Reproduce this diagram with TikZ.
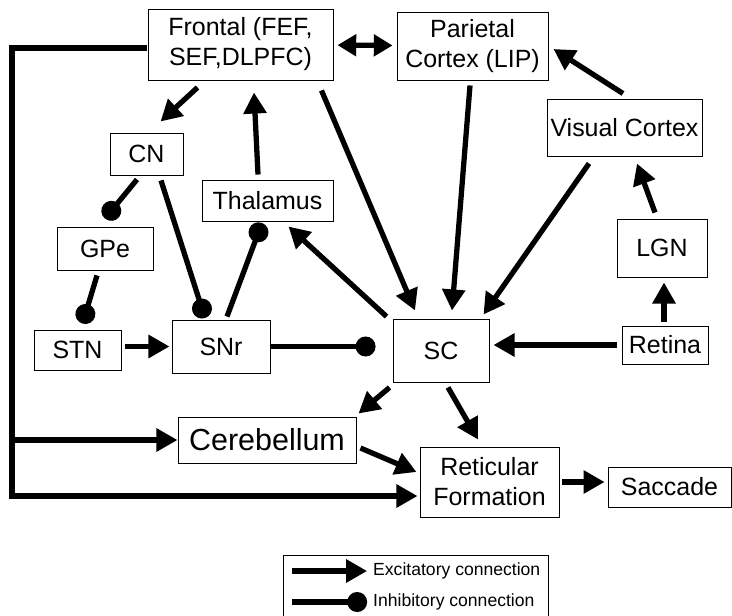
\documentclass[tikz,border=0pt]{standalone}
\usepackage{fontspec}
\setmainfont{Liberation Sans}
\usetikzlibrary{arrows.meta}

\colorlet{box edge}{black}
\colorlet{link}{black}
\tikzset{
  area/.style={draw=box edge, line width=0.8pt, inner sep=0pt, align=center,
    font=\fontsize{21.3}{25.6}\selectfont},
  key/.style={anchor=west, inner sep=0pt, font=\fontsize{15}{17}\selectfont}
  }
\tikzstyle{excite} = [draw=link, line width=4.5pt, -{Triangle[length=18pt,width=19pt]}]
\tikzstyle{inhibit} = [draw=link, line width=4.5pt, -{Circle[length=17pt]}]
\tikzstyle{both} = [draw=link, line width=4.5pt,
  {Triangle[length=16pt,width=18pt]}-{Triangle[length=16pt,width=18pt]}]

\begin{document}
\begin{tikzpicture}[x=0.03cm, y=-0.03cm]
    \useasboundingbox (0,0) rectangle (732,615);

    % Definition of the areas
    \node[area, minimum width=5.55cm, minimum height=2.13cm] (frontal) at (240.5,44.5)
      {Frontal (FEF,\\SEF,DLPFC)};
    \node[area, minimum width=4.53cm, minimum height=2.04cm] (parietal) at (472.5,46)
      {Parietal\\Cortex (LIP)};
    \node[area, minimum width=4.17cm, minimum height=2.1cm] (retic) at (489.5,482)
      {Reticular\\Formation};
    \node[area, minimum width=5.34cm, minimum height=1.38cm,
      font=\fontsize{26}{30}\selectfont] (cereb) at (267,440) {Cerebellum};

    \foreach \pos/\name/\txt/\bw/\bh in {{(624.5,127.5)/visual/Visual Cortex/4.65/1.71},
      {(146.5,154)/cn/CN/2.19/1.26}, {(267.5,200.5)/thalamus/Thalamus/3.93/1.23},
      {(105,248.5)/gpe/GPe/2.88/1.29}, {(77.5,350)/stn/STN/2.61/1.2},
      {(221,346.5)/snr/SNr/2.94/1.59}, {(441,350.5)/sc/SC/2.88/1.89},
      {(662,248)/lgn/LGN/2.7/1.74}, {(665,345)/retina/Retina/2.58/1.14},
      {(669.5,487)/saccade/Saccade/3.69/1.2}} {
      \node[area, minimum width=\bw cm, minimum height=\bh cm] (\name) at \pos {\txt};
    }

    % cortical links
    \path[both, shorten <=3.4pt, shorten >=3.4pt] (frontal) -- (parietal);
    \path[excite] ([shift={(-43,7)}]frontal.south) -- ([shift={(14,-11)}]cn.north);
    \path[excite] ([shift={(-9.5,-5)}]thalamus.north) -- ([shift={(13.5,12)}]frontal.south);
    \path[excite] ([shift={(-12,10)}]frontal.south east) -- ([shift={(-26,-8)}]sc.north);
    \path[excite] ([shift={(-2.5,5)}]parietal.south) -- ([shift={(11,-8)}]sc.north);
    \path[excite] ([shift={(-35.5,7)}]visual.south) -- ([shift={(-6,-4)}]sc.north east);
    \path[excite] ([shift={(-1.5,-5)}]visual.north) -- ([shift={(5,3)}]parietal.east);
    \path[excite] ([shift={(-7,-6)}]lgn.north) -- ([shift={(12.5,7)}]visual.south);
    \path[excite] ([shift={(-1,-4)}]retina.north) -- ([shift={(2,5)}]lgn.south);
    \path[excite, shorten <=4pt, shorten >=3.4pt] (retina.west) -- (sc.east |- retina.west);
    \path[excite] ([shift={(-6,-2)}]sc.north west) -- ([shift={(-45,5)}]thalamus.south east);

    % basal ganglia
    \path[inhibit, shorten >=14.5pt] (snr.east) -- (sc.west |- snr.east);
    \path[inhibit] ([shift={(-9.5,4)}]cn.south) -- ([shift={(0,-8)}]gpe.north);
    \path[inhibit] ([shift={(-8,5)}]gpe.south) -- ([shift={(5,-6)}]stn.north);
    \path[inhibit] ([shift={(14.5,5)}]cn.south) -- ([shift={(-16,-1.5)}]snr.north);
    \path[inhibit] ([shift={(6,-3)}]snr.north) -- ([shift={(-5.5,1.5)}]thalamus.south);
    \path[excite, shorten <=3.4pt, shorten >=1.7pt] (stn.east |- snr.west) -- (snr.west);

    % output side
    \path[excite] ([shift={(-3,5)}]sc.south west) -- ([shift={(2,-3)}]cereb.north east);
    \path[excite] ([shift={(7,5)}]sc.south) -- ([shift={(-11.5,-7)}]retic.north);
    \path[excite] ([shift={(4,8)}]cereb.east) -- ([shift={(-3,-10)}]retic.west);
    \path[excite, shorten <=2.5pt, shorten >=2.5pt] (retic.east) -- (retic.east -| saccade.west);

    % long loop from the frontal areas
    \coordinate (loop) at (12,496);
    \path[excite] ([shift={(-1,3.5)}]frontal.west) -| (loop) -- ([shift={(-2,14)}]retic.west);
    \path[excite] (loop |- cereb.west) -- (cereb.west);

    % legend
    \node[area, minimum width=7.95cm, minimum height=1.83cm] (legend) at (415.5,586) {};
    \node[key] (exlab) at (373,571) {Excitatory connection};
    \node[key] (inlab) at (373,602) {Inhibitory connection};
    \coordinate (exstart) at (292,571);
    \coordinate (instart) at (292,602);
    \path[excite, shorten >=5pt] (exstart) -- (exlab.west);
    \path[inhibit, shorten >=5pt] (instart) -- (inlab.west);
\end{tikzpicture}
\end{document}
